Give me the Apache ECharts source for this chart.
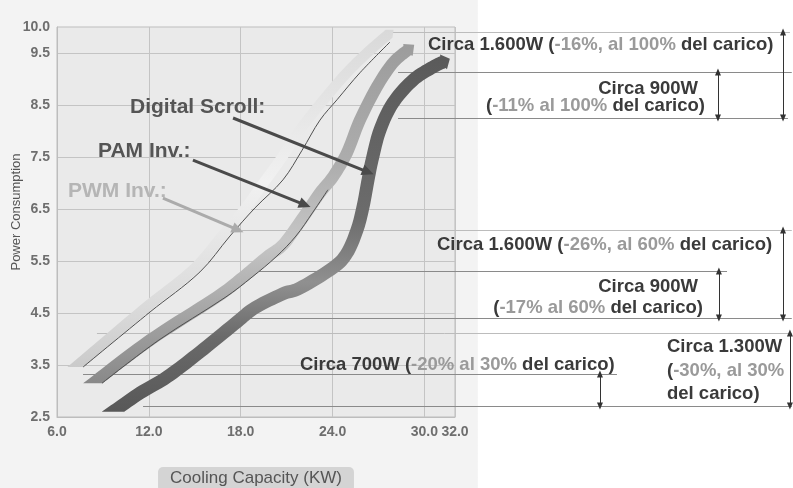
<!DOCTYPE html>
<html><head><meta charset="utf-8">
<script src="https://cdn.jsdelivr.net/npm/echarts@6/dist/echarts.min.js"></script>
<style>html,body{margin:0;padding:0;background:#fff}#c{width:793px;height:488px}</style>
</head><body><div id="c"></div>
<script>
// ---------- data ----------
const xTicks = ['6.0','12.0','18.0','24.0','30.0','32.0'];
const yTicks = ['2.5','3.5','4.5','5.5','6.5','7.5','8.5','9.5','10.0'];

const pwmBand = [[7.21,3.46],[11.62,4.56],[14.88,5.33],[16.78,5.98],[18.22,6.48],[19.39,6.96],[20.57,7.44],[21.87,8.02],[23.31,8.56],[24.81,9.08],[26.32,9.52],[27.69,9.87]];
const pwmEdge = [[7.70,3.46],[12.08,4.52],[15.34,5.29],[17.30,5.98],[18.93,6.52],[20.76,7.06],[22.01,7.63],[23.18,8.21],[24.29,8.60],[25.79,9.12],[27.75,9.71]];
const pamBand = [[8.35,3.15],[12.08,3.98],[16.45,4.81],[18.15,5.19],[19.72,5.58],[20.76,5.81],[21.87,6.25],[23.18,6.81],[24.03,7.12],[24.94,7.58],[25.79,8.21],[26.90,8.85],[27.95,9.31],[28.93,9.56]];
const pamEdge = [[8.94,3.15],[12.66,3.98],[17.04,4.81],[18.74,5.19],[20.31,5.58],[21.61,5.98],[22.72,6.44],[23.70,6.87]];
const scrollBand = [[9.66,2.60],[11.42,2.96],[13.19,3.27],[15.34,3.75],[17.76,4.33],[18.93,4.60],[20.76,4.87],[21.87,4.98],[24.03,5.37],[24.94,5.65],[25.60,6.10],[25.99,6.54],[26.32,7.06],[26.58,7.44],[27.10,8.02],[27.95,8.54],[29.26,8.98],[30.56,9.23],[31.25,9.33]];

// pointer arrows: [fromX, fromY, toX, toY]
const pointersDark = [[17.50,8.25,26.32,7.21],[14.88,7.44,22.20,6.58]];
const pointersLight = [[12.92,6.71,17.82,6.10]];
// reference levels: [y, fromX, toX]
const pwmLevels = [[9.904,27.88,53.88],[6.096,18.09,54.0],[4.115,8.61,54.0]];
const otherLevels = [[9.135,28.28,54.0],[8.25,28.28,53.75],[5.308,18.09,49.77],[4.404,18.48,54.0],[3.327,7.70,42.58],[2.712,11.62,54.0]];
// savings arrows: [x, fromY, toY]
const gapArrows = [[53.43,9.904,8.25],[49.18,9.135,8.25],[53.43,6.096,4.404],[49.24,5.308,4.404],[41.47,3.327,2.712],[53.88,4.115,2.712]];

const seriesNames = ['Digital Scroll:','PAM Inv.:','PWM Inv.:'];
const yName = 'Power Consumption';
const xName = 'Cooling Capacity (KW)';

// ---------- chart ----------
const FONT = '"Liberation Sans", Arial, Helvetica, sans-serif';
const chart = echarts.init(document.getElementById('c'), null, {renderer:'canvas'});
const G = {left:57, right:338, top:27, bottom:71};
const plotW = 793 - G.left - G.right;
const x2Max = 6 + 26 * (793 - G.left) / plotW;

function grad(stops){
  return new echarts.graphic.LinearGradient(0,0,0,1, stops.map(s=>({offset:s[0], color:s[1]})));
}
// Catmull-Rom sampling of pixel points (render-side smoothing)
function spline(P, steps){
  const out = [];
  for (let i = 0; i < P.length - 1; i++){
    const p0 = P[i-1] || P[i], p1 = P[i], p2 = P[i+1], p3 = P[i+2] || P[i+1];
    for (let s = 0; s < steps; s++){
      const t = s/steps, t2 = t*t, t3 = t2*t;
      out.push([0,1].map(k => 0.5*((2*p1[k]) + (-p0[k]+p2[k])*t + (2*p0[k]-5*p1[k]+4*p2[k]-p3[k])*t2 + (-p0[k]+3*p1[k]-3*p2[k]+p3[k])*t3)));
    }
  }
  out.push(P[P.length-1]);
  return out;
}
function ribbon(path, w, tipLen, barb){
  const n = path.length, A = [], B = [], D = [];
  for (let i = 0; i < n; i++){
    const a = path[Math.max(0,i-1)], b = path[Math.min(n-1,i+1)];
    let dx = b[0]-a[0], dy = b[1]-a[1]; const L = Math.hypot(dx,dy) || 1; dx/=L; dy/=L;
    D.push([dx,dy]);
    const nx = dy, ny = -dx;
    A.push([path[i][0]+nx*w/2, path[i][1]+ny*w/2]);
    B.push([path[i][0]-nx*w/2, path[i][1]-ny*w/2]);
  }
  const d0 = D[0], y0 = path[0][1];
  if (Math.abs(d0[1]) > 0.05){
    const sa = (y0 - A[0][1]) / d0[1], sb = (y0 - B[0][1]) / d0[1];
    A[0] = [A[0][0]+d0[0]*sa, y0]; B[0] = [B[0][0]+d0[0]*sb, y0];
  }
  const pe = path[n-1], de = D[n-1], nx = de[1], ny = -de[0];
  A[n-1] = [pe[0]+nx*w/2*barb, pe[1]+ny*w/2*barb];
  B[n-1] = [pe[0]-nx*w/2*barb, pe[1]-ny*w/2*barb];
  const tip = [pe[0]+de[0]*tipLen, pe[1]+de[1]*tipLen];
  return A.concat([tip], B.slice().reverse());
}
function bandSeries(data, width, fill, z, tipLen, barb){
  return {type:'custom', data, silent:true, z, clip:false,
    encode:{x:0, y:1},
    renderItem:(params, api)=>{
      if (params.dataIndex !== 0) return null;
      const pts = data.map(d => api.coord(d));
      return {type:'polygon', shape:{points: ribbon(spline(pts, 10), width, tipLen, barb)}, style:{fill, stroke:null}};
    }};
}
function edgeSeries(data, z){
  return {type:'line', data, smooth:0.35, showSymbol:false, symbol:'none', silent:true, z,
    lineStyle:{width:1, color:'#505050'}};
}
const seg = (a,b,style)=>[{coord:a, lineStyle:style},{coord:b}];

const NS = 18.5;
const rich = {
  a:{fontSize:NS, fontWeight:'bold', fontFamily:FONT, fill:'#3a3a3a', color:'#3a3a3a'},
  b:{fontSize:NS, fontWeight:'bold', fontFamily:FONT, fill:'#9a9a9a', color:'#9a9a9a'}
};
function note(text, x, y, align){
  return {type:'text', z:50, style:{text, x, y, rich, align, textAlign:align, verticalAlign:'middle', textVerticalAlign:'middle',
    fontSize:NS, fontWeight:'bold', fontFamily:FONT, fill:'#3a3a3a'}};
}
function label(text, x, y, color){
  return {type:'text', z:50, style:{text, x, y, align:'left', textAlign:'left', verticalAlign:'middle', textVerticalAlign:'middle',
    fontSize:21, fontWeight:'bold', fontFamily:FONT, fill:color}};
}

const option = {
  animation:false,
  backgroundColor:{type:'linear', x:0, y:0, x2:1, y2:0, colorStops:[
    {offset:0,color:'#f3f3f3'},{offset:0.602,color:'#f3f3f3'},{offset:0.603,color:'#ffffff'},{offset:1,color:'#ffffff'}]},
  grid:[
    Object.assign({show:true, backgroundColor:'#eaeaea', borderColor:'#bdbdbd', borderWidth:1, containLabel:false, outerBoundsMode:'none'}, G),
    {left:G.left, right:0, top:G.top, bottom:G.bottom, show:false, containLabel:false, outerBoundsMode:'none'}
  ],
  xAxis:[
    {type:'value', gridIndex:0, min:6, max:32, interval:6,
     name:xName, nameLocation:'middle', nameGap:50,
     nameTextStyle:{fontSize:17, color:'#555', fontFamily:FONT, backgroundColor:'#d4d4d4', borderRadius:5, padding:[1,12,4,12], lineHeight:20},
     axisLine:{show:true, lineStyle:{color:'#bdbdbd'}}, axisTick:{show:false},
     axisLabel:{formatter:v=>{const s=v.toFixed(1); return xTicks.includes(s)?s:'';}, color:'#6e6e6e', fontSize:14, fontWeight:'bold', fontFamily:FONT, margin:8},
     splitLine:{show:true, lineStyle:{color:'#c4c4c4', width:1}}},
    {type:'value', gridIndex:1, min:6, max:x2Max, show:false}
  ],
  yAxis:[
    {type:'value', gridIndex:0, min:2.5, max:10, interval:0.5,
     axisLine:{show:true, lineStyle:{color:'#bdbdbd'}}, axisTick:{show:false},
     axisLabel:{formatter:v=>{const s=v.toFixed(1); return yTicks.includes(s)?s:'';}, color:'#6e6e6e', fontSize:14, fontWeight:'bold', fontFamily:FONT, margin:7},
     splitLine:{show:true, lineStyle:{color:['#c4c4c4','rgba(0,0,0,0)'], width:1}}},
    {type:'value', gridIndex:1, min:2.5, max:10, show:false}
  ],
  series:[
    {type:'line', xAxisIndex:1, yAxisIndex:1, data:[[6,2.5]], showSymbol:false, symbol:'none', lineStyle:{opacity:0}, silent:true, z:1,
     markLine:{silent:true, z:1, symbol:['none','none'], label:{show:false}, animation:false,
       data:[
         ...pwmLevels.map(l=>seg([l[1],l[0]],[l[2],l[0]],{color:'#bcbcbc', width:1, type:'solid'})),
         ...otherLevels.map(l=>seg([l[1],l[0]],[l[2],l[0]],{color:'#8a8a8a', width:1.2, type:'solid'}))
       ]}},
    bandSeries(pwmBand, 10.5, grad([[0,'#d9d9d9'],[0.45,'#f1f1f1'],[0.85,'#d8d8d8'],[1,'#cacaca']]), 3, 6, 1.0),
    edgeSeries(pwmEdge, 4),
    bandSeries(pamBand, 12, grad([[0,'#9c9c9c'],[0.35,'#adadad'],[0.58,'#c6c6c6'],[0.8,'#a3a3a3'],[1,'#888888']]), 3, 8, 1.25),
    edgeSeries(pamEdge, 4),
    bandSeries(scrollBand, 13, grad([[0,'#5a5a5a'],[0.45,'#6c6c6c'],[0.63,'#909090'],[0.78,'#6a6a6a'],[1,'#575757']]), 3, 7, 1.25),
    {type:'line', xAxisIndex:1, yAxisIndex:1, data:[[6,2.5]], showSymbol:false, symbol:'none', lineStyle:{opacity:0}, silent:true, z:10,
     markLine:{silent:true, z:10, symbol:['none','triangle'], symbolSize:[11,12], label:{show:false}, animation:false,
       data:[
         ...pointersDark.map(p=>seg([p[0],p[1]],[p[2],p[3]],{color:'#4a4a4a', width:3, type:'solid'})),
         ...pointersLight.map(p=>seg([p[0],p[1]],[p[2],p[3]],{color:'#ababab', width:3, type:'solid'}))
       ]}},
    {type:'line', xAxisIndex:1, yAxisIndex:1, data:[[6,2.5]], showSymbol:false, symbol:'none', lineStyle:{opacity:0}, silent:true, z:10,
     markLine:{silent:true, z:10, symbol:['triangle','triangle'], symbolSize:[6,7], label:{show:false}, animation:false,
       data: gapArrows.map(a=>seg([a[0],a[1]],[a[0],a[2]],{color:'#333', width:1, type:'solid'}))}}
  ],
  graphic:[
    {type:'text', z:50, rotation:Math.PI/2, x:16, y:212, style:{text:yName, x:0, y:0, align:'center', textAlign:'center', verticalAlign:'middle', textVerticalAlign:'middle', fontSize:13, fontFamily:FONT, fill:'#555'}},
    label(seriesNames[0], 130, 107, '#555555'),
    label(seriesNames[1], 98, 151, '#555555'),
    label(seriesNames[2], 68, 191, '#b5b5b5'),
    note('{a|Circa 1.600W (}{b|-16%, al 100%}{a| del carico)}', 428, 45, 'left'),
    note('{a|Circa 900W}', 698, 89, 'right'),
    note('{a|(}{b|-11% al 100%}{a| del carico)}', 705, 106, 'right'),
    note('{a|Circa 1.600W (}{b|-26%, al 60%}{a| del carico)}', 437, 245, 'left'),
    note('{a|Circa 900W}', 698, 287, 'right'),
    note('{a|(}{b|-17% al 60%}{a| del carico)}', 703, 308, 'right'),
    note('{a|Circa 700W (}{b|-20% al 30%}{a| del carico)}', 300, 365, 'left'),
    note('{a|Circa 1.300W}', 667, 347, 'left'),
    note('{a|(}{b|-30%, al 30%}', 667, 371, 'left'),
    note('{a|del carico)}', 667, 394, 'left')
  ]
};
chart.setOption(option);
</script></body></html>
